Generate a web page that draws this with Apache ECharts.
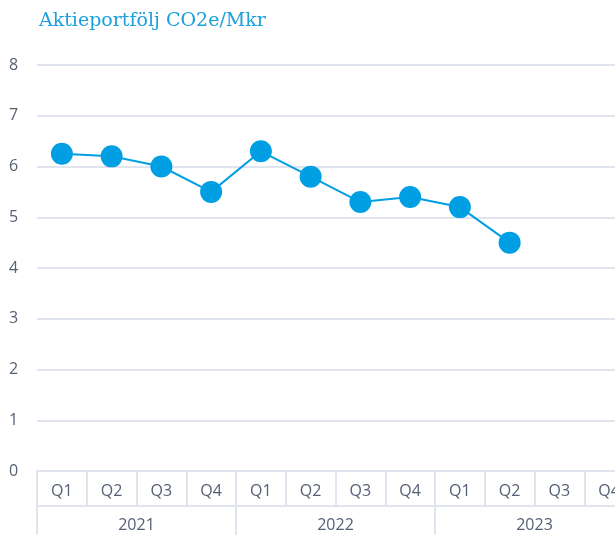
<!DOCTYPE html>
<html>
<head>
<meta charset="utf-8">
<script src="https://cdn.jsdelivr.net/npm/echarts@6/dist/echarts.min.js"></script>
<style>
  html, body { margin: 0; padding: 0; background: #fff; }
  #chart { width: 615px; height: 535px; }
</style>
</head>
<body>
<div id="chart"></div>
<script>
// kvartal och år
var quarters = ["Q1", "Q2", "Q3", "Q4", "Q1", "Q2", "Q3", "Q4", "Q1", "Q2", "Q3", "Q4"];
var years = ["2021", "2022", "2023"];
// CO2e/Mkr per kvartal (saknas för 2023 Q3, Q4)
var values = [6.25, 6.2, 6.0, 5.5, 6.3, 5.8, 5.3, 5.4, 5.2, 4.5, null, null];

var titleFont = "DejaVu Serif";
var font = "Open Sans";
var gridColor = "#dfe4ee";
var labelColor = "#556075";

var myChart = echarts.init(document.getElementById("chart"));
var option = {
  animation: false,
  title: {
    text: "Aktieportfölj CO2e/Mkr",
    left: 34,
    top: 7,
    textStyle: { color: "#1aa0dc", fontFamily: titleFont, fontWeight: "normal", fontSize: 19 }
  },
  grid: { left: 37, top: 65, width: 597, bottom: 64, outerBoundsMode: "none", containLabel: false },
  yAxis: {
    type: "value",
    min: 0,
    max: 8,
    interval: 1,
    axisLine: { show: false },
    axisTick: { show: false },
    axisLabel: { color: labelColor, fontFamily: font, fontSize: 16, margin: 28, align: "left", padding: [0, 0, 5, 0] },
    splitLine: { lineStyle: { color: gridColor, width: 2 } }
  },
  xAxis: [
    {
      type: "category",
      data: quarters,
      position: "bottom",
      axisLine: { show: true, lineStyle: { color: gridColor, width: 2 } },
      axisTick: { show: true, length: 35, lineStyle: { color: gridColor, width: 2 } },
      axisLabel: { color: labelColor, fontFamily: font, fontSize: 16, margin: 12 }
    },
    {
      type: "category",
      data: years,
      position: "bottom",
      offset: 35,
      axisLine: { show: true, lineStyle: { color: gridColor, width: 2 } },
      axisTick: { show: true, length: 40, lineStyle: { color: gridColor, width: 2 } },
      axisLabel: { color: labelColor, fontFamily: font, fontSize: 16, margin: 11 }
    }
  ],
  series: [
    {
      type: "line",
      xAxisIndex: 0,
      data: values,
      symbol: "circle",
      symbolSize: 22,
      itemStyle: { color: "#009fe3" },
      lineStyle: { color: "#009fe3", width: 2 }
    }
  ]
};
myChart.setOption(option);
</script>
</body>
</html>
